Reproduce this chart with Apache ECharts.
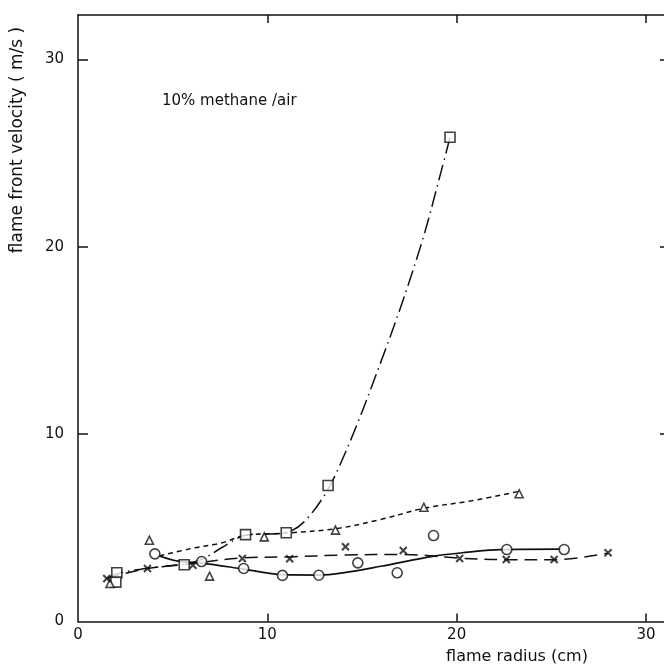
<!DOCTYPE html>
<html>
<head>
<meta charset="utf-8">
<script src="https://cdn.jsdelivr.net/npm/echarts@6/dist/echarts.min.js"></script>
<style>html,body{margin:0;padding:0;background:#fff}#c{width:664px;height:664px}</style>
</head>
<body>
<div id="c"></div>
<script>
// ---- data ----
const squaresX = [2.05, 2.0, 5.61, 8.85, 11.0, 13.21, 19.65];
const squaresY = [2.6, 2.1, 3.03, 4.64, 4.74, 7.26, 25.85];
const circlesX = [4.06, 6.53, 8.75, 10.8, 12.72, 14.78, 16.86, 18.78, 22.65, 25.68];
const circlesY = [3.61, 3.2, 2.83, 2.46, 2.47, 3.13, 2.6, 4.59, 3.84, 3.84];
const trianglesX = [1.69, 3.77, 6.95, 9.84, 13.6, 18.27, 23.3];
const trianglesY = [2.03, 4.34, 2.42, 4.52, 4.88, 6.1, 6.82];
const crossesX = [1.52, 3.67, 6.07, 8.68, 11.18, 14.13, 17.18, 20.16, 22.62, 25.15, 28.0];
const crossesY = [2.3, 2.83, 3.0, 3.36, 3.35, 3.99, 3.79, 3.36, 3.31, 3.31, 3.67];

// fitted curves as drawn in the reference
const squareFitX = [1.6, 2.05, 3.7, 5.6, 6.6, 7.6, 8.85, 11.0, 12.2, 13.65, 16.24, 18.1, 19.2, 19.65];
const squareFitY = [2.3, 2.55, 2.85, 3.05, 3.35, 3.95, 4.6, 4.75, 5.6, 7.94, 14.52, 20.04, 24.1, 25.85];
const triangleFitX = [4.3, 6.0, 7.6, 8.85, 11.0, 13.6, 16.0, 18.3, 20.8, 23.3];
const triangleFitY = [3.5, 3.9, 4.2, 4.6, 4.72, 4.95, 5.45, 6.05, 6.45, 6.95];
const circleFitX = [4.3, 5.3, 6.53, 8.75, 10.8, 12.72, 14.0, 16.0, 18.8, 20.6, 22.3, 25.5];
const circleFitY = [3.5, 3.22, 3.12, 2.8, 2.5, 2.48, 2.6, 2.95, 3.49, 3.7, 3.84, 3.86];
const crossFitX = [1.5, 3.67, 6.07, 8.68, 11.18, 14.0, 17.2, 20.16, 22.62, 25.15, 28.0];
const crossFitY = [2.3, 2.83, 3.1, 3.4, 3.45, 3.55, 3.58, 3.38, 3.3, 3.3, 3.65];

const xTickLabels = [0, 10, 20, 30];
const yTickLabels = [0, 10, 20, 30];
const majorTicks = [10, 20, 30];

const annotation = '10% methane /air';
const xName = 'flame radius (cm)';
const yName = 'flame front velocity ( m/s )';

// ---- chart ----
const FONT = '"DejaVu Sans", sans-serif';
const INK = '#111';
const zip = (a, b) => a.map((v, i) => [v, b[i]]);

const chart = echarts.init(document.getElementById('c'), null, {renderer: 'canvas'});

const axisCommon = {
  type: 'value', min: 0,
  axisLine: {show: true, onZero: false, lineStyle: {color: INK, width: 1.5}},
  splitLine: {show: false}
};

function fit(x, y, dash, width) {
  return {
    type: 'line', data: zip(x, y), smooth: 0.35, showSymbol: false, silent: true,
    lineStyle: {color: INK, width: width || 1.5, type: dash}, z: 2
  };
}
function marks(x, y, symbol, size) {
  return {
    type: 'scatter', data: zip(x, y), symbol: symbol, symbolSize: size,
    itemStyle: {color: '#fff', borderColor: INK, borderWidth: 1.6}, z: 5
  };
}

chart.setOption({
  backgroundColor: '#fff',
  animation: false,
  grid: {left: 78, top: 15, width: 592, height: 606.5, containLabel: false, outerBoundsMode: 'none'},
  xAxis: [
    Object.assign({}, axisCommon, {
      position: 'bottom', max: 31.27,
      axisTick: {show: true, inside: true, length: 8, customValues: majorTicks, lineStyle: {color: INK, width: 1.5}},
      axisLabel: {show: true, customValues: xTickLabels, color: INK, fontSize: 15, fontFamily: FONT, margin: 6}
    }),
    Object.assign({}, axisCommon, {
      position: 'top', max: 31.27,
      axisTick: {show: true, inside: true, length: 8, customValues: majorTicks, lineStyle: {color: INK, width: 1.5}},
      axisLabel: {show: false}
    })
  ],
  yAxis: [
    Object.assign({}, axisCommon, {
      position: 'left', max: 32.38,
      axisTick: {show: true, inside: true, length: 10, customValues: majorTicks, lineStyle: {color: INK, width: 1.5}},
      axisLabel: {show: true, customValues: yTickLabels, color: INK, fontSize: 15, fontFamily: FONT, margin: 14}
    }),
    Object.assign({}, axisCommon, {
      position: 'right', max: 32.38,
      axisTick: {show: true, inside: true, length: 10, customValues: majorTicks, lineStyle: {color: INK, width: 1.5}},
      axisLabel: {show: false}
    })
  ],
  series: [
    fit(squareFitX, squareFitY, [16, 5, 1.5, 5]),
    fit(triangleFitX, triangleFitY, [5, 4]),
    fit(circleFitX, circleFitY, 'solid', 1.7),
    fit(crossFitX, crossFitY, [13, 7]),
    marks(squaresX, squaresY, 'rect', 10),
    marks(circlesX, circlesY, 'circle', 10),
    marks(trianglesX, trianglesY, 'triangle', 8),
    {
      type: 'scatter', data: zip(crossesX, crossesY),
      symbol: 'path://M0,0L10,10M10,0L0,10', symbolSize: 7,
      itemStyle: {color: 'none', borderColor: INK, borderWidth: 2}, z: 5
    }
  ],
  graphic: [
    {type: 'text', x: 162, y: 101, style: {text: annotation, font: '15px ' + FONT, fill: INK, textVerticalAlign: 'middle'}},
    {type: 'text', x: 517, y: 657, style: {text: xName, font: '16px ' + FONT, fill: INK, textAlign: 'center', textVerticalAlign: 'middle'}},
    {type: 'text', x: 18, y: 140, rotation: Math.PI / 2, style: {text: yName, font: '17px ' + FONT, fill: INK, textAlign: 'center', textVerticalAlign: 'middle'}}
  ]
});
</script>
</body>
</html>
